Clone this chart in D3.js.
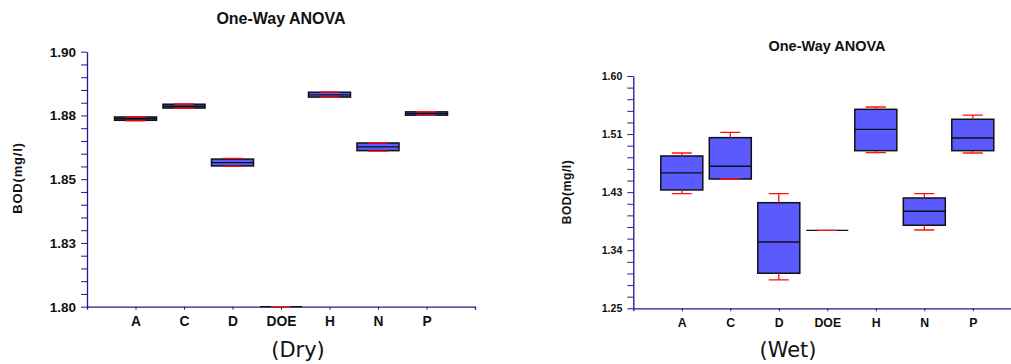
<!DOCTYPE html>
<html>
<head>
<meta charset="utf-8">
<script src="https://cdn.jsdelivr.net/npm/d3@7"></script>
<style>
  body { margin: 0; background: #fff; }
  svg { display: block; }
</style>
</head>
<body>
<svg id="chart" width="1011" height="364"></svg>
<script>
// groups on the x axis
var cats = ["A", "C", "D", "DOE", "H", "N", "P"];

// dry season, BOD (mg/l)
var dryMin = [1.8729, 1.8778, 1.8550, 1.80, 1.8821, 1.8610, 1.8750];
var dryQ1  = [1.8731, 1.8779, 1.8552, 1.80, 1.8822, 1.8612, 1.8751];
var dryMed = [1.8737, 1.8786, 1.8565, 1.80, 1.8831, 1.8627, 1.8757];
var dryQ3  = [1.8744, 1.8794, 1.8579, 1.80, 1.8841, 1.8642, 1.8764];
var dryMax = [1.8745, 1.8795, 1.8582, 1.80, 1.8842, 1.8643, 1.8765];

// wet season, BOD (mg/l)
var wetMin = [1.4227, 1.4448, 1.2927, 1.3675, 1.4845, 1.3680, 1.4840];
var wetQ1  = [1.4283, 1.4448, 1.3028, 1.3675, 1.4875, 1.3751, 1.4875];
var wetMed = [1.4539, 1.4640, 1.3499, 1.3675, 1.5197, 1.3962, 1.5066];
var wetQ3  = [1.4795, 1.5071, 1.4091, 1.3675, 1.5498, 1.4162, 1.5348];
var wetMax = [1.4840, 1.5152, 1.4227, 1.3675, 1.5533, 1.4227, 1.5412];

// y axis ticks and their printed labels
var dryTicks = [1.80, 1.825, 1.85, 1.875, 1.90];
var dryTickLabels = ["1.80", "1.83", "1.85", "1.88", "1.90"];
var wetTicks = [1.25, 1.3375, 1.425, 1.5125, 1.60];
var wetTickLabels = ["1.25", "1.34", "1.43", "1.51", "1.60"];

var svg = d3.select("#chart");
var FONT = "Arial, 'Liberation Sans', sans-serif";
var AXIS = "#1c1c8c";

function rows(mn, q1, md, q3, mx) {
    return cats.map(function (c, i) {
        return { cat: c, min: mn[i], q1: q1[i], med: md[i], q3: q3[i], max: mx[i] };
    });
}

function drawPanel(o) {
    var g = svg.append("g");
    var x = d3.scalePoint().domain(cats).range([o.x0, o.x1]).padding(1);
    var y = d3.scaleLinear().domain([o.ticks[0], o.ticks[o.ticks.length - 1]]).range([o.y0, o.y1]);
    var bw = 42, cw = 20;

    // minor ticks (4 between each pair of majors)
    var minor = [];
    for (var i = 0; i < o.ticks.length - 1; i++) {
        var s = (o.ticks[i + 1] - o.ticks[i]) / 5;
        for (var k = 1; k < 5; k++) minor.push(o.ticks[i] + s * k);
    }
    g.append("g").attr("transform", "translate(" + o.x0 + ",0)")
        .call(d3.axisLeft(y).tickValues(minor).tickSize(6).tickFormat(""))
        .call(function (a) { a.select(".domain").remove(); a.selectAll("line").attr("stroke", AXIS); });

    // y axis
    var ya = g.append("g").attr("transform", "translate(" + o.x0 + ",0)")
        .call(d3.axisLeft(y).tickValues(o.ticks).tickSize(6).tickSizeOuter(0).tickPadding(5)
            .tickFormat(function (d, i) { return o.labels[i]; }));
    ya.select(".domain").attr("stroke", AXIS).attr("stroke-width", 1.3);
    ya.selectAll("line").attr("stroke", AXIS);
    ya.selectAll("text").attr("font-family", FONT).attr("font-weight", "bold")
        .attr("font-size", o.yFont).attr("fill", "#111");

    // x axis
    var xa = g.append("g").attr("transform", "translate(0," + o.y0 + ")")
        .call(d3.axisBottom(x).tickSize(3).tickSizeOuter(3).tickPadding(7));
    xa.select(".domain").attr("stroke", AXIS).attr("stroke-width", 1.3);
    xa.selectAll("line").attr("stroke", AXIS);
    xa.selectAll("text").attr("font-family", FONT).attr("font-weight", "bold")
        .attr("font-size", o.xFont).attr("fill", "#111");

    var b = g.selectAll(".bx").data(o.data).enter().append("g").attr("class", "bx");

    b.append("rect")
        .attr("x", function (d) { return x(d.cat) - bw / 2; })
        .attr("y", function (d) { return y(d.q3); })
        .attr("width", bw)
        .attr("height", function (d) { return y(d.q1) - y(d.q3); })
        .attr("fill", "#5a5aff").attr("stroke", "#111").attr("stroke-width", 1.5);

    b.append("line")
        .attr("x1", function (d) { return x(d.cat) - bw / 2; })
        .attr("x2", function (d) { return x(d.cat) + bw / 2; })
        .attr("y1", function (d) { return y(d.med); })
        .attr("y2", function (d) { return y(d.med); })
        .attr("stroke", "#111").attr("stroke-width", 1.3);

    // whiskers
    b.append("path")
        .attr("d", function (d) {
            var cx = x(d.cat);
            return "M" + cx + "," + y(d.q3) + "V" + y(d.max) +
                "M" + (cx - cw / 2) + "," + y(d.max) + "H" + (cx + cw / 2) +
                "M" + cx + "," + y(d.q1) + "V" + y(d.min) +
                "M" + (cx - cw / 2) + "," + y(d.min) + "H" + (cx + cw / 2);
        })
        .attr("fill", "none").attr("stroke", "#ff1010").attr("stroke-width", 1.3);

    // title
    g.append("text").attr("x", o.tx).attr("y", o.ty).attr("text-anchor", "middle")
        .attr("font-family", FONT).attr("font-weight", "bold").attr("font-size", o.tFont)
        .attr("fill", "#111").text("One-Way ANOVA");

    // y label
    g.append("text").attr("transform", "translate(" + o.lx + "," + o.ly + ") rotate(-90)")
        .attr("text-anchor", "middle").attr("font-family", FONT).attr("font-weight", "bold")
        .attr("font-size", o.lFont).attr("letter-spacing", o.lSpace).attr("fill", "#111")
        .text("BOD(mg/l)");

    // season caption
    g.append("text").attr("x", o.cx).attr("y", 357).attr("text-anchor", "middle")
        .attr("font-family", "'DejaVu Sans', sans-serif").attr("font-size", 21)
        .attr("fill", "#111").text(o.caption);
}

drawPanel({
    data: rows(dryMin, dryQ1, dryMed, dryQ3, dryMax),
    ticks: dryTicks, labels: dryTickLabels,
    x0: 87, x1: 475, y0: 306.7, y1: 51.7,
    yFont: 13.5, xFont: 13.8,
    tx: 281, ty: 24, tFont: 16,
    lx: 22, ly: 178, lFont: 13, lSpace: 0.8,
    cx: 298, caption: "(Dry)"
});

drawPanel({
    data: rows(wetMin, wetQ1, wetMed, wetQ3, wetMax),
    ticks: wetTicks, labels: wetTickLabels,
    x0: 633.3, x1: 1021.3, y0: 308.3, y1: 76,
    yFont: 10.6, xFont: 12.3,
    tx: 827, ty: 51, tFont: 14.5,
    lx: 571, ly: 192, lFont: 12, lSpace: 0.6,
    cx: 788, caption: "(Wet)"
});
</script>
</body>
</html>
